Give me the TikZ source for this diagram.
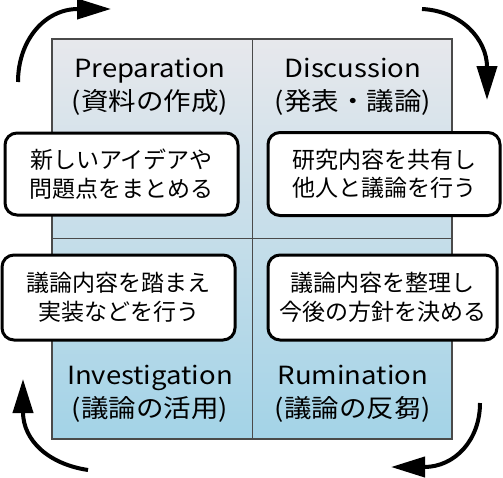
\documentclass[tikz,border=0pt]{standalone}
\usepackage{fontspec}
\setmainfont{Noto Sans CJK JP}
\newfontfamily\titlefont[FakeStretch=1.1]{Noto Sans CJK JP}
\usetikzlibrary{arrows.meta}
\definecolor{topc}{HTML}{E7E8EC}
\definecolor{botc}{HTML}{A3D3E7}
\definecolor{edgec}{HTML}{4A4A4A}
\tikzset{
  x=1pt, y=-1pt,
  cycarrow/.style={line width=4pt, -{Triangle[length=34pt,width=20pt]}},
  notebox/.style={draw=black, line width=3pt, fill=white, rounded corners=12pt,
    align=center, inner sep=0pt, font=\fontsize{23}{28.5}\selectfont},
  phase/.style={align=center, inner sep=0pt, font=\titlefont\fontsize{25}{33}\selectfont},
}
\begin{document}
\begin{tikzpicture}
\useasboundingbox (0,0) rectangle (503,477);
% quadrant panel
\shade[top color=topc, bottom color=botc] (52,39) rectangle (452,439);
\coordinate (tl) at (52,39);
\coordinate (br) at (452,439);
\coordinate (mt) at (252,39);
\coordinate (mb) at (252,439);
\coordinate (ml) at (52,238);
\coordinate (mr) at (452,238);
\draw[edgec, line width=0.9pt] (mt) -- (mb);
\draw[edgec, line width=0.9pt] (ml) -- (mr);
\draw[edgec, line width=1.5pt] (tl) rectangle (br);
% phase titles
\node[phase] (prep) at (150,87) {Preparation\\(資料の作成)};
\node[phase] (disc) at (353,87) {Discussion\\(発表・議論)};
\node[phase] (inv) at (150,394) {Investigation\\(議論の活用)};
\node[phase] (rum) at (353,394) {Rumination\\(議論の反芻)};
% note boxes
\node[notebox, minimum width=233pt, minimum height=82pt] (n1) at (121.5,174) {新しいアイデアや\\問題点をまとめる};
\node[notebox, minimum width=232pt, minimum height=83pt] (n2) at (384,174) {研究内容を共有し\\他人と議論を行う};
\node[notebox, minimum width=233pt, minimum height=85pt] (n3) at (118.5,297.5) {議論内容を踏まえ\\実装などを行う};
\node[notebox, minimum width=229pt, minimum height=85pt] (n4) at (382.5,297.5) {議論内容を整理し\\今後の方針を決める};
% cycle arrows
\coordinate (a1s) at (18,82);  \coordinate (a1e) at (111,9);
\coordinate (a2s) at (422,9);  \coordinate (a2e) at (487,100);
\coordinate (a3s) at (480,403); \coordinate (a3e) at (391,467);
\coordinate (a4s) at (88,470); \coordinate (a4e) at (23,379);
\draw[cycarrow] (a1s) .. controls (18,40) and (45,9) .. (a1e);
\draw[cycarrow] (a2s) .. controls (462,11) and (487,40) .. (a2e);
\draw[cycarrow] (a3s) .. controls (480,440) and (455,467) .. (a3e);
\draw[cycarrow] (a4s) .. controls (48,464) and (23,440) .. (a4e);
\end{tikzpicture}
\end{document}
